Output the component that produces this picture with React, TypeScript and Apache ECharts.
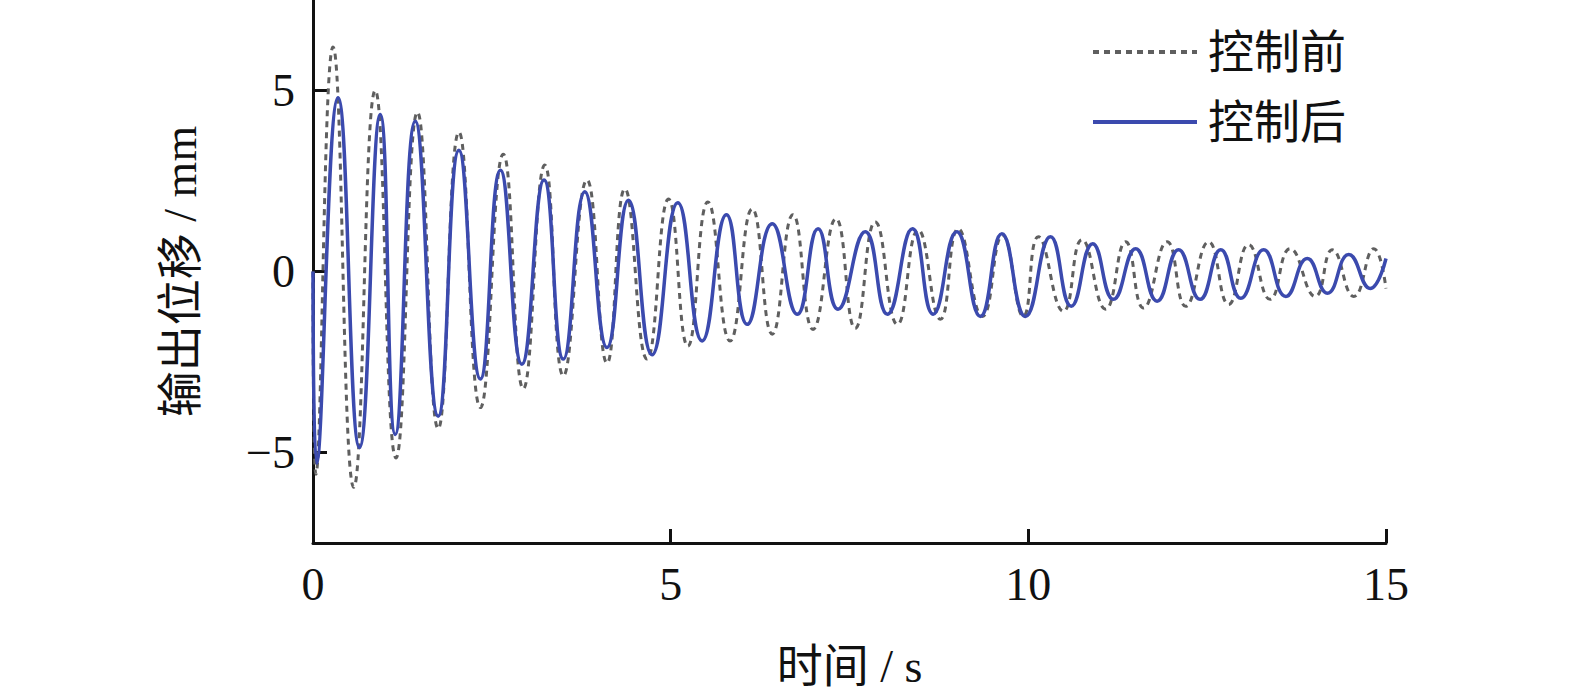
import React, { useEffect, useRef } from 'react'
import * as echarts from 'echarts'

// 控制前 (dashed) – peaks / troughs
const beforeT = [
  0, 0.04, 0.28, 0.57, 0.87, 1.16, 1.46, 1.75, 2.04, 2.34, 2.66, 2.94, 3.24, 3.5, 3.83, 4.11, 4.36, 4.67,
  4.97, 5.24, 5.52, 5.83, 6.14, 6.42, 6.71, 6.99, 7.31, 7.58, 7.86, 8.17, 8.46, 8.77, 9.02, 9.36, 9.64, 9.93,
  10.14, 10.49, 10.75, 11.08, 11.36, 11.61, 11.94, 12.2, 12.52, 12.8, 13.08, 13.38, 13.66, 14.01, 14.25, 14.55,
  14.83, 15.0,
]
const beforeY = [
  0, -5.6, 6.2, -5.96, 5.0, -5.15, 4.4, -4.34, 3.85, -3.76, 3.24, -3.24, 2.94, -2.88, 2.53, -2.53, 2.28, -2.42,
  2.0, -2.06, 1.92, -1.92, 1.73, -1.73, 1.57, -1.6, 1.46, -1.57, 1.37, -1.46, 1.15, -1.32, 1.18, -1.24, 1.0, -1.24,
  0.96, -1.1, 0.88, -1.04, 0.82, -1.01, 0.82, -0.96, 0.82, -0.91, 0.74, -0.77, 0.63, -0.69, 0.6, -0.69,
  0.63, -0.47,
]

// 控制后 (solid)
const afterT = [
  0, 0.05, 0.35, 0.65, 0.94, 1.15, 1.43, 1.75, 2.04, 2.34, 2.62, 2.92, 3.23, 3.5, 3.8, 4.11, 4.41, 4.74,
  5.1, 5.44, 5.78, 6.07, 6.42, 6.77, 7.06, 7.34, 7.72, 8.03, 8.38, 8.67, 9.0, 9.33, 9.63, 9.96,
  10.31, 10.6, 10.9, 11.19, 11.5, 11.8, 12.1, 12.4, 12.69, 12.97, 13.29, 13.6, 13.9, 14.18, 14.48, 14.78, 15.0,
]
const afterY = [
  0, -5.3, 4.8, -4.86, 4.34, -4.5, 4.15, -4.0, 3.35, -2.97, 2.8, -2.56, 2.53, -2.42, 2.2, -2.1, 1.97, -2.3,
  1.9, -1.92, 1.57, -1.46, 1.32, -1.18, 1.18, -1.04, 1.1, -1.18, 1.18, -1.18, 1.1, -1.24, 1.04, -1.24,
  0.96, -0.96, 0.77, -0.77, 0.63, -0.82, 0.6, -0.77, 0.6, -0.74, 0.6, -0.69, 0.36, -0.6, 0.47, -0.47, 0.36,
]

const xTicks = [0, 5, 10, 15]
const yTicks = [-5, 0, 5]

const FONT = "'Liberation Serif', 'Times New Roman', 'Noto Sans CJK SC', serif"

const zip = (t: number[], y: number[]) => t.map((v, i) => [v, y[i]])

const App = () => {
  const chartRef = useRef<HTMLDivElement>(null)

  useEffect(() => {
    document.body.style.margin = '0'
    if (!chartRef.current) return
    const chart = echarts.init(chartRef.current, null, { renderer: 'svg' })

    const axisCommon = {
      axisLine: { show: true, onZero: false, lineStyle: { color: '#111', width: 3 } },
      axisTick: { show: true, inside: true, length: 14, lineStyle: { color: '#111', width: 3 } },
      splitLine: { show: false },
      nameTextStyle: { fontFamily: FONT, fontSize: 46, color: '#111' },
    }

    const option = {
      animation: false,
      backgroundColor: '#fff',
      grid: { left: 313, right: 189, top: 0, bottom: 156 },
      legend: {
        orient: 'vertical',
        left: 1086,
        top: 22,
        itemWidth: 104,
        itemHeight: 14,
        itemGap: 20,
        itemStyle: { opacity: 0 },
        lineStyle: { width: 4 },
        textStyle: { fontFamily: FONT, fontSize: 46, color: '#111', lineHeight: 50, padding: [0, 0, 0, 6] },
        data: ['控制前', '控制后'],
      },
      xAxis: {
        type: 'value',
        min: 0,
        max: 15,
        name: '时间 / s',
        nameLocation: 'middle',
        nameGap: 100,
        ...axisCommon,
        axisTick: { ...axisCommon.axisTick, customValues: xTicks },
        axisLabel: {
          customValues: xTicks,
          fontFamily: FONT,
          fontSize: 46,
          color: '#111',
          margin: 18,
        },
      },
      yAxis: {
        type: 'value',
        min: -7.5,
        max: 7.5,
        name: '输出位移 / mm',
        nameLocation: 'middle',
        nameGap: 110,
        ...axisCommon,
        axisTick: { ...axisCommon.axisTick, customValues: yTicks },
        axisLabel: {
          customValues: yTicks,
          fontFamily: FONT,
          fontSize: 46,
          color: '#111',
          margin: 18,
          formatter: (v: number) => String(v).replace('-', '\u2212'),
        },
      },
      series: [
        {
          name: '控制前',
          type: 'line',
          data: zip(beforeT, beforeY),
          smooth: 0.5,
          symbol: 'none',
          lineStyle: { color: '#5f5f5f', width: 3, type: [6, 5] },
          itemStyle: { color: '#5f5f5f' },
          z: 2,
        },
        {
          name: '控制后',
          type: 'line',
          data: zip(afterT, afterY),
          smooth: 0.5,
          symbol: 'none',
          lineStyle: { color: '#3b4aae', width: 3.5 },
          itemStyle: { color: '#3b4aae' },
          z: 3,
        },
      ],
    }

    chart.setOption(option)
    const onResize = () => chart.resize()
    window.addEventListener('resize', onResize)
    return () => {
      window.removeEventListener('resize', onResize)
      chart.dispose()
    }
  }, [])

  return <div ref={chartRef} style={{ width: 1575, height: 699 }} />
}

export default App
